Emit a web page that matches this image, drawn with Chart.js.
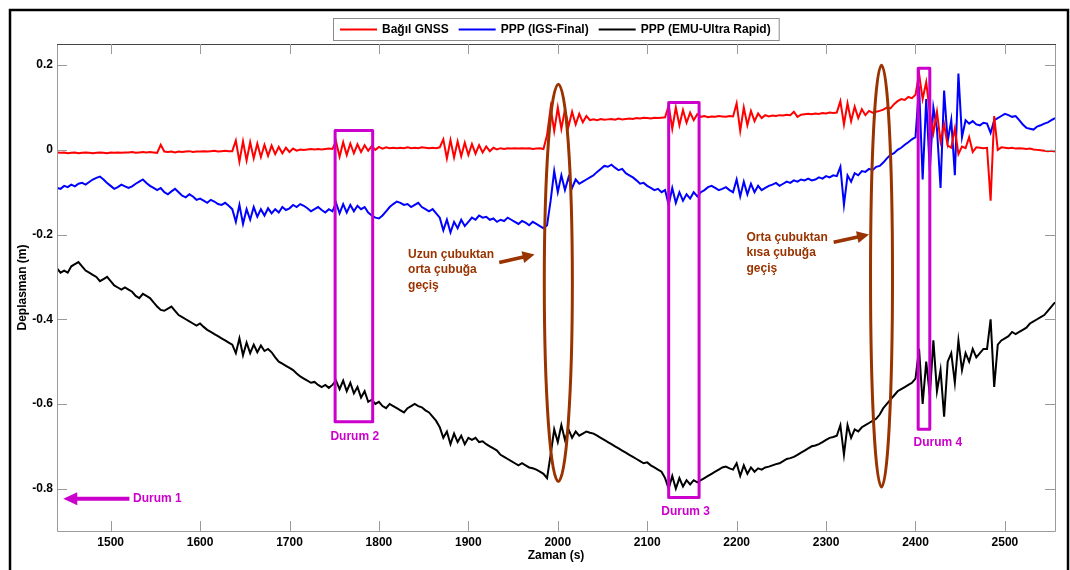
<!DOCTYPE html>
<html><head><meta charset="utf-8">
<script src="https://cdn.jsdelivr.net/npm/chart.js@4.4.1/dist/chart.umd.min.js"></script>
<style>html,body{margin:0;padding:0;background:#fff;}#wrap{width:1070px;height:570px;}</style>
</head><body><div id="wrap"><canvas id="c" width="1070" height="570"></canvas></div>
<script>
// ---------- DATA ----------
const seriesNames = ['Bağıl GNSS', 'PPP (IGS-Final)', 'PPP (EMU-Ultra Rapid)'];
const tStart = 1440, tStep = 4; // sampling grid of the series (s)
const xTicks = [1500, 1600, 1700, 1800, 1900, 2000, 2100, 2200, 2300, 2400, 2500];
const yTicks = [0.2, 0, -0.2, -0.4, -0.6, -0.8];

const redVals = [
 -0.006,-0.007,-0.006,-0.008,-0.007,-0.006,-0.008,-0.007,-0.006,-0.007,
 -0.008,-0.007,-0.006,-0.007,-0.008,-0.006,-0.007,-0.006,-0.007,-0.006,
 -0.006,-0.005,-0.007,-0.006,-0.005,-0.006,-0.005,-0.006,-0.007,0.012,
 -0.004,-0.005,-0.004,-0.006,-0.004,-0.005,-0.004,-0.003,-0.005,-0.004,
 -0.004,-0.003,-0.004,-0.003,-0.002,-0.004,-0.003,-0.002,-0.003,-0.003,
 0.022,-0.028,0.02,-0.025,0.018,-0.02,0.015,-0.017,0.012,-0.014,
 0.01,-0.01,0.007,-0.008,0.005,-0.005,0.003,-0.002,0.001,0.0,
 0.001,0.002,0.001,0.002,0.001,0.002,0.003,0.002,0.02,-0.016,
 0.018,-0.012,0.015,-0.008,0.013,-0.005,0.011,-0.002,0.009,0.0,
 0.007,0.003,0.006,0.004,0.005,0.004,0.005,0.004,0.006,0.004,
 0.005,0.004,0.006,0.005,0.004,0.005,0.004,0.006,0.025,-0.02,
 0.023,-0.018,0.02,-0.015,0.017,-0.012,0.014,-0.009,0.011,-0.006,
 0.008,-0.003,0.005,0.001,0.004,0.002,0.004,0.003,0.004,0.003,
 0.004,0.003,0.004,0.002,0.003,0.004,0.002,0.035,0.1,0.045,
 0.1,0.05,0.095,0.055,0.09,0.06,0.085,0.065,0.08,0.07,
 0.072,0.07,0.073,0.071,0.072,0.073,0.071,0.074,0.072,0.073,
 0.074,0.073,0.075,0.074,0.076,0.075,0.074,0.076,0.075,0.076,
 0.077,0.105,0.05,0.1,0.058,0.094,0.064,0.088,0.07,0.084,
 0.078,0.08,0.077,0.079,0.078,0.08,0.079,0.078,0.08,0.079,
 0.11,0.045,0.1,0.058,0.092,0.068,0.086,0.075,0.082,0.079,
 0.081,0.08,0.082,0.081,0.083,0.082,0.09,0.078,0.083,0.084,
 0.085,0.084,0.086,0.085,0.087,0.086,0.088,0.087,0.088,0.115,
 0.06,0.11,0.068,0.102,0.075,0.096,0.082,0.092,0.088,0.09,
 0.092,0.095,0.1,0.098,0.108,0.115,0.12,0.118,0.125,0.122,
 0.13,0.18,0.12,0.16,0.09,0.04,0.09,0.02,0.06,0.01,
 0.005,0.05,-0.01,0.008,0.004,0.03,-0.005,0.006,0.005,0.004,
 0.005,-0.12,0.08,0.0,0.006,0.005,0.004,0.005,0.003,0.004,
 0.003,0.002,0.003,0.001,0.0,-0.001,-0.002,-0.003,-0.002,-0.004
];

const blueVals = [
 -0.09,-0.092,-0.085,-0.088,-0.082,-0.086,-0.08,-0.078,-0.082,-0.076,
 -0.07,-0.066,-0.063,-0.07,-0.078,-0.085,-0.092,-0.088,-0.082,-0.086,
 -0.09,-0.086,-0.08,-0.075,-0.07,-0.078,-0.085,-0.09,-0.095,-0.09,
 -0.1,-0.105,-0.098,-0.092,-0.1,-0.108,-0.112,-0.105,-0.11,-0.118,
 -0.115,-0.12,-0.125,-0.118,-0.122,-0.128,-0.13,-0.125,-0.132,-0.14,
 -0.17,-0.13,-0.175,-0.14,-0.165,-0.135,-0.158,-0.14,-0.155,-0.138,
 -0.15,-0.14,-0.148,-0.135,-0.142,-0.138,-0.13,-0.135,-0.128,-0.132,
 -0.138,-0.145,-0.14,-0.135,-0.142,-0.148,-0.14,-0.145,-0.125,-0.15,
 -0.128,-0.148,-0.13,-0.145,-0.132,-0.14,-0.135,-0.148,-0.155,-0.16,
 -0.162,-0.155,-0.145,-0.135,-0.128,-0.122,-0.125,-0.13,-0.128,-0.135,
 -0.13,-0.125,-0.135,-0.14,-0.145,-0.14,-0.15,-0.16,-0.19,-0.165,
 -0.195,-0.17,-0.185,-0.165,-0.18,-0.17,-0.16,-0.165,-0.155,-0.16,
 -0.158,-0.165,-0.162,-0.17,-0.165,-0.168,-0.16,-0.165,-0.17,-0.175,
 -0.168,-0.172,-0.178,-0.17,-0.175,-0.18,-0.185,-0.178,-0.12,-0.05,
 -0.1,-0.06,-0.095,-0.065,-0.09,-0.07,-0.08,-0.075,-0.07,-0.065,
 -0.06,-0.052,-0.045,-0.038,-0.04,-0.035,-0.042,-0.048,-0.045,-0.055,
 -0.06,-0.065,-0.072,-0.08,-0.078,-0.085,-0.09,-0.095,-0.092,-0.1,
 -0.095,-0.13,-0.09,-0.125,-0.1,-0.12,-0.105,-0.115,-0.1,-0.11,
 -0.1,-0.095,-0.088,-0.085,-0.09,-0.095,-0.092,-0.088,-0.095,-0.1,
 -0.07,-0.11,-0.075,-0.105,-0.08,-0.1,-0.085,-0.095,-0.09,-0.085,
 -0.082,-0.078,-0.085,-0.08,-0.075,-0.078,-0.072,-0.075,-0.07,-0.072,
 -0.068,-0.072,-0.07,-0.065,-0.068,-0.062,-0.065,-0.06,-0.062,-0.04,
 -0.13,-0.06,-0.075,-0.055,-0.06,-0.05,-0.052,-0.045,-0.048,-0.04,
 -0.038,-0.03,-0.02,-0.012,-0.008,0.0,0.005,0.012,0.018,0.025,
 0.03,0.15,-0.07,0.12,-0.05,0.1,0.05,-0.09,0.14,0.02,
 0.07,-0.06,0.18,0.03,0.07,0.062,0.068,0.06,0.058,0.064,
 0.062,0.04,0.07,0.075,0.08,0.085,0.082,0.078,0.08,0.07,
 0.06,0.052,0.05,0.048,0.055,0.058,0.062,0.065,0.07,0.075
];

const blackVals = [
 -0.28,-0.29,-0.285,-0.29,-0.275,-0.27,-0.265,-0.275,-0.285,-0.29,
 -0.295,-0.3,-0.31,-0.305,-0.3,-0.31,-0.32,-0.325,-0.33,-0.325,
 -0.33,-0.335,-0.345,-0.35,-0.34,-0.345,-0.35,-0.36,-0.37,-0.378,
 -0.38,-0.375,-0.37,-0.38,-0.39,-0.395,-0.4,-0.405,-0.41,-0.415,
 -0.41,-0.418,-0.425,-0.43,-0.435,-0.44,-0.445,-0.45,-0.455,-0.46,
 -0.48,-0.445,-0.485,-0.455,-0.48,-0.46,-0.478,-0.462,-0.475,-0.47,
 -0.478,-0.49,-0.5,-0.505,-0.51,-0.515,-0.52,-0.528,-0.535,-0.54,
 -0.545,-0.55,-0.548,-0.555,-0.56,-0.555,-0.562,-0.555,-0.545,-0.565,
 -0.545,-0.57,-0.55,-0.575,-0.56,-0.585,-0.57,-0.595,-0.59,-0.6,
 -0.595,-0.605,-0.61,-0.6,-0.605,-0.61,-0.615,-0.62,-0.61,-0.605,
 -0.6,-0.605,-0.608,-0.615,-0.62,-0.63,-0.64,-0.655,-0.68,-0.665,
 -0.695,-0.67,-0.69,-0.675,-0.695,-0.68,-0.685,-0.68,-0.69,-0.688,
 -0.695,-0.7,-0.705,-0.71,-0.72,-0.725,-0.73,-0.735,-0.74,-0.745,
 -0.74,-0.745,-0.75,-0.752,-0.755,-0.76,-0.765,-0.775,-0.72,-0.66,
 -0.69,-0.65,-0.685,-0.66,-0.68,-0.665,-0.675,-0.67,-0.665,-0.668,
 -0.67,-0.675,-0.68,-0.685,-0.69,-0.695,-0.7,-0.705,-0.71,-0.715,
 -0.72,-0.725,-0.73,-0.735,-0.74,-0.738,-0.745,-0.75,-0.755,-0.76,
 -0.775,-0.8,-0.77,-0.8,-0.775,-0.795,-0.78,-0.79,-0.78,-0.785,
 -0.78,-0.775,-0.77,-0.765,-0.76,-0.755,-0.75,-0.748,-0.752,-0.755,
 -0.74,-0.77,-0.745,-0.765,-0.75,-0.76,-0.752,-0.755,-0.75,-0.748,
 -0.745,-0.742,-0.74,-0.735,-0.73,-0.728,-0.725,-0.72,-0.715,-0.71,
 -0.705,-0.7,-0.698,-0.695,-0.69,-0.685,-0.68,-0.678,-0.675,-0.65,
 -0.72,-0.65,-0.68,-0.66,-0.665,-0.655,-0.65,-0.645,-0.64,-0.635,
 -0.625,-0.61,-0.6,-0.59,-0.58,-0.57,-0.565,-0.56,-0.555,-0.55,
 -0.54,-0.47,-0.6,-0.5,-0.58,-0.45,-0.57,-0.52,-0.63,-0.5,
 -0.48,-0.55,-0.45,-0.52,-0.48,-0.5,-0.47,-0.49,-0.48,-0.47,
 -0.47,-0.4,-0.56,-0.46,-0.45,-0.445,-0.44,-0.43,-0.435,-0.43,
 -0.425,-0.42,-0.41,-0.405,-0.4,-0.395,-0.39,-0.38,-0.37,-0.36
];

// annotations (data coordinates)
const boxNotes = [
  {t0: 1751, t1: 1793, v0: 0.046, v1: -0.642, text: 'Durum 2', tt: 1773, tv: -0.677},
  {t0: 2124, t1: 2158, v0: 0.112, v1: -0.821, text: 'Durum 3', tt: 2143, tv: -0.854},
  {t0: 2403, t1: 2416, v0: 0.193, v1: -0.660, text: 'Durum 4', tt: 2425, tv: -0.691}
];
const ellipseNotes = [
  {t: 2000.6, v: -0.314, rt: 15.7, rv: 0.469},
  {t: 2362, v: -0.298, rt: 12.3, rv: 0.498}
];
const textNotes = [
  {t: 1832.6, v: -0.247, lines: ['Uzun çubuktan', 'orta çubuğa', 'geçiş'], a0: [1934.5, -0.266], a1: [1974, -0.247]},
  {t: 2211, v: -0.207, lines: ['Orta çubuktan', 'kısa çubuğa', 'geçiş'], a0: [2308.5, -0.218], a1: [2348, -0.2]}
];
const durum1 = {text: 'Durum 1', t: 1525, v: -0.824, a0: 1521, a1: 1447};

// ---------- CHART ----------
const times = redVals.map((_, i) => tStart + tStep * i);
const toXY = vals => vals.map((v, i) => ({x: times[i], y: v}));
const FONT = '"Liberation Sans", Arial, sans-serif';
const PURPLE = '#cc00cc', BROWN = '#993300';

function arrowHead(ctx, x0, y0, x1, y1, len, half) {
  const ang = Math.atan2(y1 - y0, x1 - x0);
  ctx.beginPath();
  ctx.moveTo(x1, y1);
  ctx.lineTo(x1 - len * Math.cos(ang) + half * Math.sin(ang), y1 - len * Math.sin(ang) - half * Math.cos(ang));
  ctx.lineTo(x1 - len * Math.cos(ang) - half * Math.sin(ang), y1 - len * Math.sin(ang) + half * Math.cos(ang));
  ctx.closePath();
  ctx.fill();
}

const decor = {
  id: 'decor',
  beforeDraw(chart) {
    const ctx = chart.ctx;
    ctx.save(); ctx.fillStyle = '#fff'; ctx.fillRect(0, 0, chart.width, chart.height); ctx.restore();
  },
  afterDatasetsDraw(chart) {
    const {ctx, chartArea: a, scales: {x, y}} = chart;
    const X = t => x.getPixelForValue(t), Y = v => y.getPixelForValue(v);
    ctx.save();
    // boxes
    ctx.strokeStyle = PURPLE; ctx.lineWidth = 3; ctx.lineJoin = 'round';
    ctx.font = 'bold 12px ' + FONT; ctx.fillStyle = PURPLE; ctx.textAlign = 'center'; ctx.textBaseline = 'middle';
    boxNotes.forEach(b => {
      ctx.beginPath();
      ctx.rect(X(b.t0), Y(b.v0), X(b.t1) - X(b.t0), Y(b.v1) - Y(b.v0));
      ctx.stroke();
      ctx.fillText(b.text, X(b.tt), Y(b.tv));
    });
    // Durum 1 arrow
    const dy = Y(durum1.v);
    ctx.lineWidth = 4;
    ctx.beginPath(); ctx.moveTo(X(durum1.a0), dy); ctx.lineTo(X(durum1.a1) + 10, dy); ctx.stroke();
    arrowHead(ctx, X(durum1.a0), dy, X(durum1.a1), dy, 14, 6.5);
    ctx.textAlign = 'left';
    ctx.fillText(durum1.text, X(durum1.t), dy);
    // ellipses
    ctx.strokeStyle = BROWN; ctx.lineWidth = 3;
    ellipseNotes.forEach(e => {
      const cx = X(e.t), cy = Y(e.v);
      ctx.beginPath();
      ctx.ellipse(cx, cy, X(e.t + e.rt) - cx, Y(e.v - e.rv) - cy, 0, 0, Math.PI * 2);
      ctx.stroke();
    });
    // brown texts + arrows
    ctx.fillStyle = BROWN; ctx.textAlign = 'left';
    textNotes.forEach(n => {
      n.lines.forEach((s, i) => ctx.fillText(s, X(n.t), Y(n.v) + i * 15.5));
      const x0 = X(n.a0[0]), y0 = Y(n.a0[1]), x1 = X(n.a1[0]), y1 = Y(n.a1[1]);
      ctx.lineWidth = 3.5;
      const ang = Math.atan2(y1 - y0, x1 - x0);
      ctx.beginPath(); ctx.moveTo(x0, y0); ctx.lineTo(x1 - 8 * Math.cos(ang), y1 - 8 * Math.sin(ang)); ctx.stroke();
      arrowHead(ctx, x0, y0, x1, y1, 12, 6);
    });
    // axes box and inward ticks
    ctx.lineWidth = 1;
    ctx.strokeStyle = '#9a9a9a';
    ctx.beginPath();
    ctx.moveTo(a.left + 0.5, a.top); ctx.lineTo(a.left + 0.5, a.bottom + 0.5);
    ctx.lineTo(a.right + 0.5, a.bottom + 0.5); ctx.lineTo(a.right + 0.5, a.top);
    ctx.stroke();
    ctx.strokeStyle = '#444';
    ctx.beginPath(); ctx.moveTo(a.left, a.top + 0.5); ctx.lineTo(a.right + 1, a.top + 0.5); ctx.stroke();
    ctx.strokeStyle = '#9a9a9a';
    ctx.beginPath();
    xTicks.forEach(t => {
      const px = Math.round(X(t)) + 0.5;
      ctx.moveTo(px, a.bottom); ctx.lineTo(px, a.bottom - 10);
      ctx.moveTo(px, a.top); ctx.lineTo(px, a.top + 10);
    });
    yTicks.forEach(v => {
      const py = Math.round(Y(v)) + 0.5;
      ctx.moveTo(a.left, py); ctx.lineTo(a.left + 10, py);
      ctx.moveTo(a.right, py); ctx.lineTo(a.right - 10, py);
    });
    ctx.stroke();
    ctx.restore();
  },
  afterDraw(chart) {
    const ctx = chart.ctx, a = chart.chartArea;
    ctx.save();
    // legend
    ctx.font = 'bold 12px ' + FONT;
    const colors = chart.data.datasets.map(d => d.borderColor);
    const lineLen = 37, gap1 = 5, gap2 = 10, padL = 7, padR = 8;
    const widths = seriesNames.map(s => ctx.measureText(s).width);
    let total = padL + padR;
    widths.forEach((w, i) => { total += lineLen + gap1 + w + (i < widths.length - 1 ? gap2 : 0); });
    const bx = Math.round((a.left + a.right) / 2 - total / 2), by = 18, bh = 22;
    ctx.fillStyle = '#fff'; ctx.fillRect(bx, by, total, bh);
    ctx.strokeStyle = '#8c8c8c'; ctx.lineWidth = 1;
    ctx.strokeRect(bx + 0.5, by + 0.5, total, bh);
    let cx = bx + padL;
    const cy = by + bh / 2 + 0.5;
    seriesNames.forEach((s, i) => {
      ctx.strokeStyle = colors[i]; ctx.lineWidth = 2;
      ctx.beginPath(); ctx.moveTo(cx, cy); ctx.lineTo(cx + lineLen, cy); ctx.stroke();
      cx += lineLen + gap1;
      ctx.fillStyle = '#000'; ctx.textAlign = 'left'; ctx.textBaseline = 'middle';
      ctx.fillText(s, cx, cy);
      cx += widths[i] + gap2;
    });
    // outer figure frame
    ctx.strokeStyle = '#000'; ctx.lineWidth = 2.5;
    ctx.strokeRect(10, 10, 1058, 600);
    ctx.restore();
  }
};

new Chart(document.getElementById('c'), {
  type: 'line',
  data: {
    datasets: [
      {label: seriesNames[0], data: toXY(redVals), borderColor: '#ff0000'},
      {label: seriesNames[1], data: toXY(blueVals), borderColor: '#0000ff'},
      {label: seriesNames[2], data: toXY(blackVals), borderColor: '#000000'}
    ].map(d => Object.assign(d, {borderWidth: 2, pointRadius: 0, tension: 0, fill: false, backgroundColor: d.borderColor}))
  },
  options: {
    responsive: false,
    animation: false,
    devicePixelRatio: 1,
    layout: {padding: {left: 8, right: 15, top: 44, bottom: 0}},
    plugins: {legend: {display: false}, tooltip: {enabled: false}},
    scales: {
      x: {
        type: 'linear', min: 1440, max: 2556,
        grid: {display: false, drawTicks: false}, border: {display: false},
        afterBuildTicks: s => { s.ticks = xTicks.map(v => ({value: v})); },
        afterFit: s => { s.height = 39; },
        ticks: {color: '#000', padding: 4, font: {family: FONT, size: 12, weight: 'bold'}, callback: v => String(v), maxRotation: 0, autoSkip: false},
        title: {display: true, text: 'Zaman (s)', color: '#000', padding: {top: 0, bottom: 7}, font: {family: FONT, size: 12, weight: 'bold'}}
      },
      y: {
        type: 'linear', min: -0.9, max: 0.25,
        grid: {display: false, drawTicks: false}, border: {display: false},
        afterBuildTicks: s => { s.ticks = yTicks.map(v => ({value: v})); },
        afterFit: s => { s.width = 49; },
        ticks: {color: '#000', padding: 4, font: {family: FONT, size: 12, weight: 'bold'}, callback: v => String(Number(v.toFixed(1))), autoSkip: false},
        title: {display: true, text: 'Deplasman (m)', color: '#000', padding: {top: 7, bottom: 0}, font: {family: FONT, size: 12, weight: 'bold'}}
      }
    }
  },
  plugins: [decor]
});
</script></body></html>
